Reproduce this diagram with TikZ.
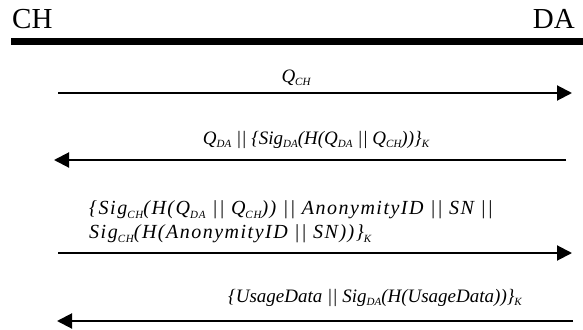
\documentclass[tikz,border=0pt]{standalone}
\usepackage{fontspec}
\setmainfont{Liberation Serif}
\newfontfamily\spacedfont[LetterSpace=7.5]{Liberation Serif}
\usetikzlibrary{arrows.meta}
% lowered subscript in the message labels
\newcommand{\lo}[1]{\raisebox{-0.45ex}{\fontsize{11}{11}\selectfont\itshape #1}}
\tikzset{
  party/.style={font=\fontsize{29}{30}\selectfont, inner sep=0pt, anchor=base west},
  timeline/.style={line width=7pt},
  msg/.style={line width=2pt, -{Triangle[length=15pt,width=15pt]}},
  lbl/.style={font=\fontsize{19}{22}\selectfont\itshape, inner sep=0pt, anchor=base},
  lbl3/.style={lbl, anchor=base west, font=\fontsize{20}{22}\selectfont\itshape\spacedfont},
}
\begin{document}
\begin{tikzpicture}[x=1pt,y=-1pt]
\useasboundingbox (0,0) rectangle (583,329);
% parties and the common line under them
\node[party] (ch) at (12,29) {CH};
\node[party, anchor=base east] (da) at (575,29) {DA};
\coordinate (tl) at (11,42);
\coordinate (tr) at (583,42);
\draw[timeline] (tl) -- (tr);
% message endpoints
\coordinate (m1l) at (58,93);  \coordinate (m1r) at (572,93);
\coordinate (m2l) at (54,160); \coordinate (m2r) at (566,160);
\coordinate (m3l) at (58,253); \coordinate (m3r) at (572,253);
\coordinate (m4l) at (57,321); \coordinate (m4r) at (573,321);
\draw[msg] (m1l) -- (m1r);
\draw[msg] (m2r) -- (m2l);
\draw[msg] (m3l) -- (m3r);
\draw[msg] (m4r) -- (m4l);
% message contents
\node[lbl] (t1) at (296,82) {Q\lo{CH}};
\node[lbl] (t2) at (316,144) {Q\lo{DA} || \{Sig\lo{DA}(H(Q\lo{DA} || Q\lo{CH}))\}\lo{K}};
\node[lbl3] (t3a) at (89,214)
  {\{Sig\lo{CH}(H(Q\lo{DA} || Q\lo{CH})) || AnonymityID || SN ||};
\node[lbl3] (t3b) at (89,238)
  {Sig\lo{CH}(H(AnonymityID || SN))\}\lo{K}};
\node[lbl] (t4) at (375,302) {\{UsageData || Sig\lo{DA}(H(UsageData))\}\lo{K}};
\end{tikzpicture}
\end{document}
